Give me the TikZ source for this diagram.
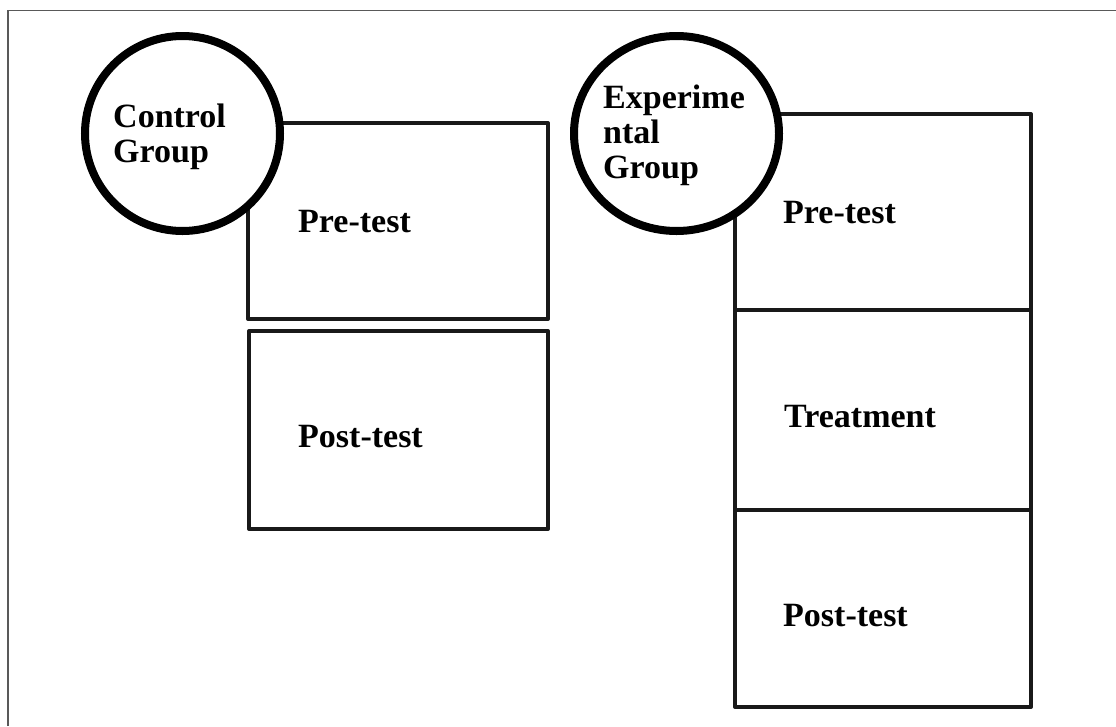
\documentclass[tikz,border=0pt]{standalone}
\usepackage{fontspec}
\setmainfont{Liberation Serif}
\usetikzlibrary{shadows,shapes.geometric}
\begin{document}
\begin{tikzpicture}[x=1pt,y=-1pt,
  stage/.style={draw=black!90, line width=4pt, line join=round, fill=none},
  group/.style={draw=black, line width=8pt, fill=white, inner sep=0pt,
    drop shadow={opacity=0.18, shadow xshift=1.5pt, shadow yshift=-3pt}},
  label/.style={inner sep=0pt, anchor=base west, font=\fontsize{34}{35}\selectfont\bfseries, align=left},
  frame/.style={draw=black!65, line width=1.5pt}]
  \useasboundingbox (0,0) rectangle (1116,726);
  % page frame (only top and left edges fall inside the picture)
  \coordinate (fb) at (8,726);
  \coordinate (fc) at (8,10.7);
  \coordinate (fr) at (1116,10.7);
  \draw[frame] (fb) -- (fc) -- (fr);

  % control group: two stages
  \coordinate (cpa) at (248,123);   \coordinate (cpb) at (548,319);
  \coordinate (cqa) at (249,331);   \coordinate (cqb) at (548,529);
  \draw[stage] (cpa) rectangle (cpb);
  \draw[stage] (cqa) rectangle (cqb);
  \node[label] (cpre)  at (298,232) {Pre-test};
  \node[label] (cpost) at (298,447) {Post-test};

  % experimental group: three stacked stages
  \coordinate (e1a) at (735,114);  \coordinate (e1b) at (1031,310);
  \coordinate (e2a) at (735,310);  \coordinate (e2b) at (1031,510);
  \coordinate (e3a) at (735,510);  \coordinate (e3b) at (1031,707);
  \draw[stage] (e1a) rectangle (e1b);
  \draw[stage] (e2a) rectangle (e2b);
  \draw[stage] (e3a) rectangle (e3b);
  \node[label] (epre)   at (783,223) {Pre-test};
  \node[label] (etreat) at (784,427) {Treatment};
  \node[label] (epost)  at (783,626) {Post-test};

  % group badges (multi-line labels are placed by their last baseline)
  \node[group, circle, minimum size=195pt] (cg) at (182.5,133.5) {};
  \node[group, ellipse, minimum width=205pt, minimum height=195pt] (eg) at (676.5,133.5) {};
  \node[label] (cgt) at (113,162) {Control\\Group};
  \node[label] (egt) at (603,178) {Experime\\ntal\\Group};
\end{tikzpicture}
\end{document}
